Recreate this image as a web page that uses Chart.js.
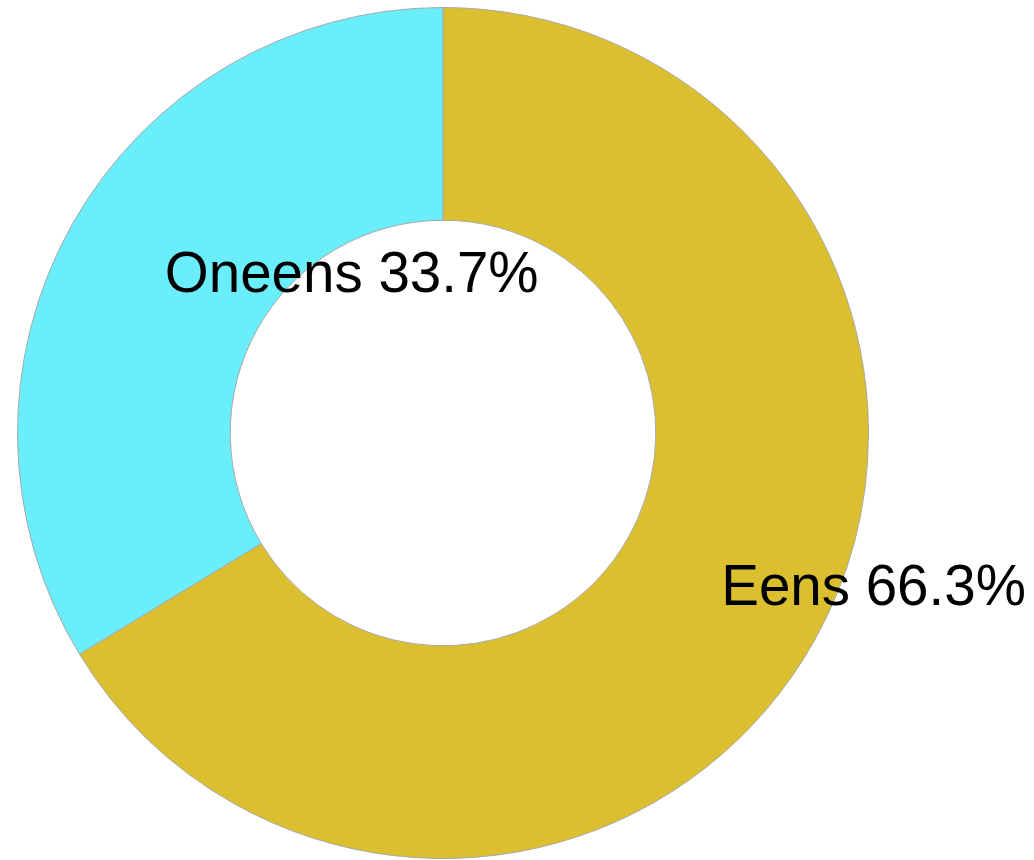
<!DOCTYPE html>
<html>
<head>
<meta charset="utf-8">
<script src="https://cdn.jsdelivr.net/npm/chart.js@4/dist/chart.umd.min.js"></script>
<style>
  html, body { margin: 0; padding: 0; background: #fff; }
  #wrap { width: 1034px; height: 860px; position: relative; }
</style>
</head>
<body>
<div id="wrap"><canvas id="c"></canvas></div>
<script>
const categories = ['Eens', 'Oneens'];
const values = [66.3, 33.7];
const colors = ['#dbbf2f', '#6beefc'];

const labelPlugin = {
  id: 'sliceLabels',
  afterDatasetsDraw(chart) {
    const ctx = chart.ctx;
    const meta = chart.getDatasetMeta(0);
    const total = values.reduce((a, b) => a + b, 0);
    ctx.save();
    ctx.font = '56.5px "Liberation Sans", Arial, sans-serif';
    ctx.fillStyle = '#000';
    ctx.textAlign = 'left';
    ctx.textBaseline = 'middle';
    meta.data.forEach((arc, i) => {
      const p = arc.tooltipPosition();
      const pct = (values[i] / total * 100).toFixed(1);
      ctx.fillText(categories[i] + ' ' + pct + '%', p.x, p.y);
    });
    ctx.restore();
  }
};

new Chart(document.getElementById('c'), {
  type: 'doughnut',
  data: {
    labels: categories,
    datasets: [{
      data: values,
      backgroundColor: colors,
      borderColor: '#a8a8a8',
      borderWidth: 1
    }]
  },
  options: {
    responsive: true,
    maintainAspectRatio: false,
    animation: false,
    cutout: '50%',
    layout: { padding: { left: 17, right: 165, top: 7, bottom: 1 } },
    plugins: {
      legend: { display: false },
      tooltip: { enabled: false }
    }
  },
  plugins: [labelPlugin]
});
</script>
</body>
</html>
